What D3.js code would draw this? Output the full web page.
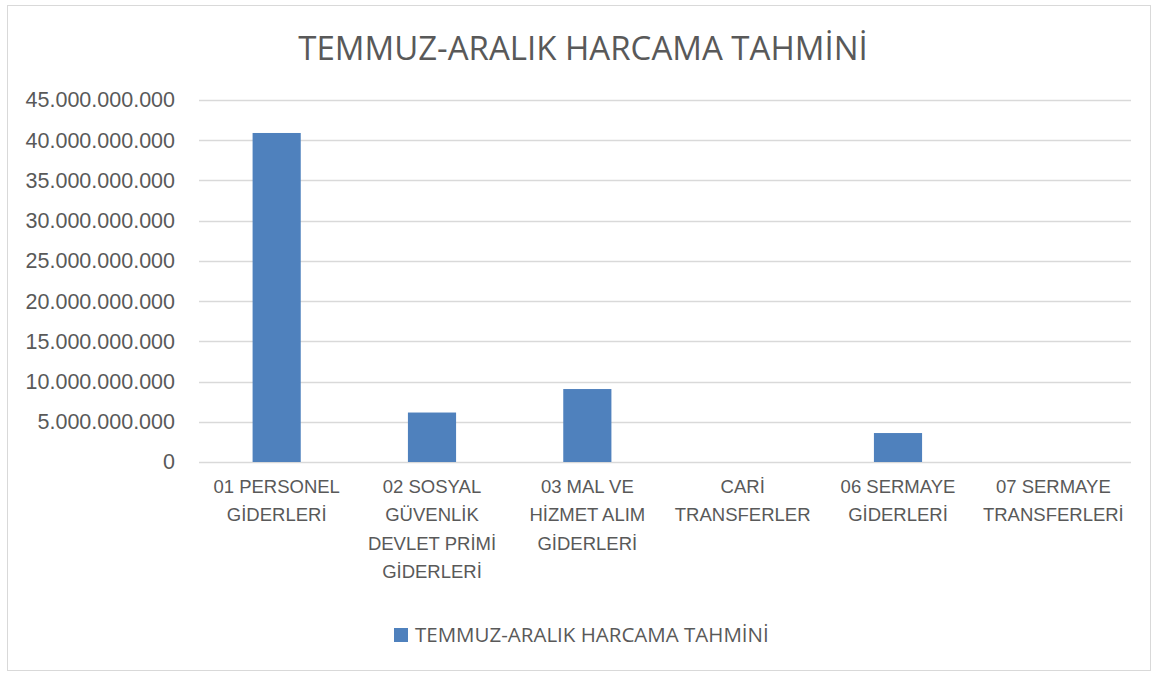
<!DOCTYPE html>
<html>
<head>
<meta charset="utf-8">
<script src="https://cdn.jsdelivr.net/npm/d3@7"></script>
<style>
  body { margin: 0; background: #fff; font-family: "Open Sans", "Noto Sans", sans-serif; }
  .tick text { fill: #595959; }
</style>
</head>
<body>
<div id="chart"></div>
<script>
var title = "TEMMUZ-ARALIK HARCAMA TAHMİNİ";
var categories = [
  "01 PERSONEL\nGİDERLERİ",
  "02 SOSYAL\nGÜVENLİK\nDEVLET PRİMİ\nGİDERLERİ",
  "03 MAL VE\nHİZMET ALIM\nGİDERLERİ",
  "CARİ\nTRANSFERLER",
  "06 SERMAYE\nGİDERLERİ",
  "07 SERMAYE\nTRANSFERLERİ"
];
var values = [40900000000, 6150000000, 9070000000, 0, 3600000000, 0];
var yTicks = [0, 5e9, 10e9, 15e9, 20e9, 25e9, 30e9, 35e9, 40e9, 45e9];

var width = 1159, height = 677;
var margin = { top: 100, right: 28, bottom: 215, left: 199 };
var graphWidth = width - margin.left - margin.right,
  graphHeight = height - margin.top - margin.bottom;

var svg = d3.select("#chart").append("svg").attr("width", width).attr("height", height);

// chart frame
svg.append("rect")
  .attr("x", 7.5).attr("y", 5.5)
  .attr("width", 1143).attr("height", 665)
  .attr("fill", "#fff")
  .attr("stroke", "#d9d9d9");

svg.append("text")
  .text(title)
  .attr("x", 583)
  .attr("y", 60)
  .attr("text-anchor", "middle")
  .style("font-size", "33px")
  .style("fill", "#595959");

var graph = svg.append("g")
  .attr("transform", "translate(" + margin.left + "," + margin.top + ")");

var x = d3.scaleBand()
  .domain(categories)
  .range([0, graphWidth])
  .paddingInner(0.69)
  .paddingOuter(0.345);
var y = d3.scaleLinear().domain([0, 45e9]).range([graphHeight, 0]);

// gridlines
graph.append("g")
  .selectAll("line")
  .data(yTicks)
  .enter()
  .append("line")
  .attr("x1", 0)
  .attr("x2", graphWidth)
  .attr("y1", function (d) { return Math.round(y(d)) + 0.5; })
  .attr("y2", function (d) { return Math.round(y(d)) + 0.5; })
  .attr("stroke", "#d9d9d9")
  .attr("stroke-width", 1.3);

var fmt = function (d) { return d3.format(",")(d).replace(/,/g, "."); };
var yAxis = d3.axisLeft(y).tickValues(yTicks).tickFormat(fmt).tickSize(0).tickPadding(24);
var gY = graph.append("g").call(yAxis);
gY.select(".domain").remove();
gY.selectAll("text").style("font-size", "21.5px");

graph.selectAll("rect.bar")
  .data(values)
  .enter()
  .append("rect")
  .attr("class", "bar")
  .attr("fill", "#4f81bd")
  .attr("x", function (d, i) { return x(categories[i]); })
  .attr("width", x.bandwidth())
  .attr("y", function (d) { return y(d); })
  .attr("height", function (d) { return graphHeight - y(d); });

// category labels
var xAxis = d3.axisBottom(x).tickSize(0).tickFormat("");
var gX = graph.append("g").attr("transform", "translate(0," + graphHeight + ")").call(xAxis);
gX.select(".domain").remove();
gX.selectAll(".tick").each(function (d) {
  var t = d3.select(this).append("text")
    .attr("text-anchor", "middle")
    .attr("y", 31)
    .style("font-size", "18.5px")
    .style("fill", "#595959");
  d.split("\n").forEach(function (line, i) {
    t.append("tspan").attr("x", 0).attr("dy", i === 0 ? 0 : 28.3).text(line);
  });
});

// legend
var legend = svg.append("g").attr("transform", "translate(394,628)");
legend.append("rect").attr("width", 14).attr("height", 14).attr("fill", "#4f81bd");
legend.append("text")
  .text(title)
  .attr("x", 21)
  .attr("y", 14)
  .style("font-size", "20.5px")
  .style("fill", "#595959");
</script>
</body>
</html>
